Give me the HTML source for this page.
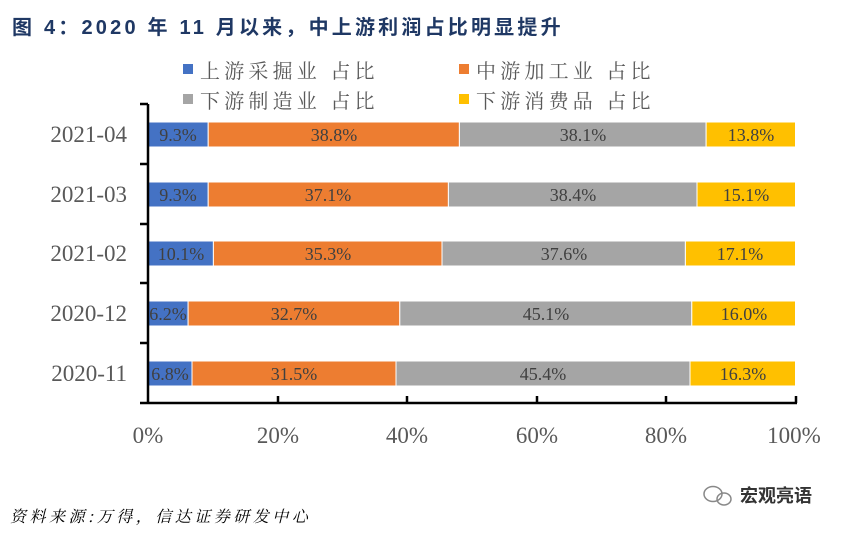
<!DOCTYPE html>
<html><head><meta charset="utf-8"><style>
body{margin:0;background:#fff;width:851px;height:534px;overflow:hidden}
</style></head><body>
<svg width="851" height="534" xmlns="http://www.w3.org/2000/svg">
<text x="12" y="34" font-family="Liberation Sans, Noto Sans CJK SC, sans-serif" font-weight="bold" font-size="20" letter-spacing="3.2" fill="#1f3864">图  4：2020 年 11 月以来，中上游利润占比明显提升</text>
<g font-family="Noto Serif CJK SC, serif" font-size="20" letter-spacing="4.2" fill="#595959">
<rect x="183" y="64" width="10" height="10" fill="#4472c4"/><text x="200" y="78">上游采掘业  占比</text>
<rect x="459" y="64" width="10" height="10" fill="#ed7d31"/><text x="476" y="78">中游加工业  占比</text>
<rect x="183" y="94" width="10" height="10" fill="#a5a5a5"/><text x="200" y="108">下游制造业  占比</text>
<rect x="459" y="94" width="10" height="10" fill="#ffc000"/><text x="476" y="108">下游消费品  占比</text>
</g>
<g stroke="#fff" stroke-width="1">
<rect x="148" y="122" width="60.2" height="25" fill="#4472c4"/><rect x="208.2" y="122" width="251.2" height="25" fill="#ed7d31"/><rect x="459.4" y="122" width="246.7" height="25" fill="#a5a5a5"/><rect x="706.1" y="122" width="89.4" height="25" fill="#ffc000"/>
<rect x="148" y="182" width="60.2" height="25" fill="#4472c4"/><rect x="208.2" y="182" width="240.2" height="25" fill="#ed7d31"/><rect x="448.4" y="182" width="248.6" height="25" fill="#a5a5a5"/><rect x="697" y="182" width="98.5" height="25" fill="#ffc000"/>
<rect x="148" y="241" width="65.4" height="25" fill="#4472c4"/><rect x="213.4" y="241" width="228.6" height="25" fill="#ed7d31"/><rect x="442" y="241" width="243.4" height="25" fill="#a5a5a5"/><rect x="685.4" y="241" width="110.1" height="25" fill="#ffc000"/>
<rect x="148" y="301" width="40.1" height="25" fill="#4472c4"/><rect x="188.1" y="301" width="211.7" height="25" fill="#ed7d31"/><rect x="399.8" y="301" width="292" height="25" fill="#a5a5a5"/><rect x="691.8" y="301" width="103.7" height="25" fill="#ffc000"/>
<rect x="148" y="361" width="44" height="25" fill="#4472c4"/><rect x="192" y="361" width="204" height="25" fill="#ed7d31"/><rect x="396" y="361" width="294" height="25" fill="#a5a5a5"/><rect x="690" y="361" width="105.5" height="25" fill="#ffc000"/>
</g>
<g font-family="Liberation Serif, serif" font-size="18" fill="#404040" text-anchor="middle">
<text x="178" y="141">9.3%</text><text x="334" y="141">38.8%</text><text x="583" y="141">38.1%</text><text x="751" y="141">13.8%</text>
<text x="178" y="201">9.3%</text><text x="328" y="201">37.1%</text><text x="573" y="201">38.4%</text><text x="746" y="201">15.1%</text>
<text x="181" y="260">10.1%</text><text x="328" y="260">35.3%</text><text x="564" y="260">37.6%</text><text x="740" y="260">17.1%</text>
<text x="168" y="320">6.2%</text><text x="294" y="320">32.7%</text><text x="546" y="320">45.1%</text><text x="744" y="320">16.0%</text>
<text x="170" y="380">6.8%</text><text x="294" y="380">31.5%</text><text x="543" y="380">45.4%</text><text x="743" y="380">16.3%</text>
</g>
<g stroke="#000" stroke-width="2.5" fill="none">
<path d="M148,104V404M140,104H148M140,164H148M140,224H148M140,283H148M140,343H148M140,403H797"/>
<path d="M278,396V403M407,396V403M537,396V403M666,396V403M796,396V403"/>
</g>
<g font-family="Liberation Serif, serif" font-size="23" fill="#595959" text-anchor="end">
<text x="127" y="142">2021-04</text><text x="127" y="202">2021-03</text><text x="127" y="261">2021-02</text><text x="127" y="321">2020-12</text><text x="127" y="381">2020-11</text>
</g>
<g font-family="Liberation Serif, serif" font-size="23" fill="#595959" text-anchor="middle">
<text x="148" y="443">0%</text><text x="278" y="443">20%</text><text x="407" y="443">40%</text><text x="537" y="443">60%</text><text x="666" y="443">80%</text><text x="794" y="443">100%</text>
</g>
<text x="10" y="522" font-family="Noto Serif CJK SC, serif" font-style="italic" font-size="16" letter-spacing="3.5" fill="#000">资料来源:万得，信达证券研发中心</text>
<g fill="none" stroke="#888" stroke-width="1.5"><ellipse cx="713" cy="494" rx="9" ry="7.5"/><ellipse cx="724" cy="499" rx="7" ry="6"/></g>
<text x="740" y="502" font-family="Liberation Sans, Noto Sans CJK SC, sans-serif" font-weight="bold" font-size="18" fill="#333">宏观亮语</text>
</svg>
</body></html>
